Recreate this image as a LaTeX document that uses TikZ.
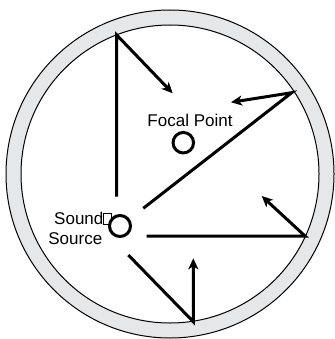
\documentclass[tikz,border=0pt]{standalone}
\usepackage{fontspec}
\setmainfont{Liberation Sans}
\usetikzlibrary{arrows.meta}
\definecolor{ringgray}{HTML}{E6E7E8}
\begin{document}
\begin{tikzpicture}[x=1pt,y=-1pt,
  ray/.style={line width=3pt,line join=miter,miter limit=12},
  arr/.style={ray,-{Stealth[length=11pt,width=10pt,inset=3pt]}},
  edge/.style={line width=1pt},
  hole/.style={draw,circle,line width=3pt,inner sep=0pt},
  lbl/.style={font=\fontsize{17}{19}\selectfont,inner sep=0pt}
]
\useasboundingbox (0,0) rectangle (334,339);
\coordinate (C) at (170,174);
\fill[ringgray,even odd rule] (C) circle (164pt) (C) circle (149pt);
\draw[edge] (C) circle (164pt);
\draw[edge] (C) circle (149pt);

% reflection points
\coordinate (P1) at (116.7,35);
\coordinate (P2) at (291.7,92.7);
\coordinate (P3) at (305,236);
\coordinate (P4) at (193.3,321.7);
% ray starts
\coordinate (S1) at (116.7,196.7);
\coordinate (S2) at (143.3,208.3);
\coordinate (S3) at (146.7,236);
\coordinate (S4) at (128.3,255);
% arrow tips
\coordinate (T1) at (172.7,93.3);
\coordinate (T2) at (231,102.3);
\coordinate (T3) at (261.7,196);
\coordinate (T4) at (193.3,258.3);

\draw[arr] (S1) -- (P1) -- (T1);
\draw[arr] (S2) -- (P2) -- (T2);
\draw[arr] (S3) -- (P3) -- (T3);
\draw[arr] (S4) -- (P4) -- (T4);

\node[hole,minimum size=20.5pt] (focal) at (183.3,142.7) {};
\node[lbl,anchor=base] (focallabel) at (190,126.7) {Focal Point};

\node[lbl,anchor=base] (sound) at (78.8,224) {Sound};
\node[lbl,anchor=base] (source) at (75.3,244) {Source};
\node[draw,line width=0.8pt,inner sep=0pt,minimum width=7.5pt,minimum height=11pt] (glyph) at (107.5,219.2) {};
\node[hole,minimum size=21pt,fill=white] (src) at (120,226) {};
\end{tikzpicture}
\end{document}
